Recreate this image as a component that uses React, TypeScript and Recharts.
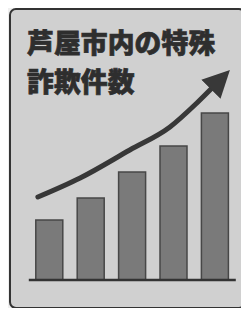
import { ComposedChart, Bar, Line, XAxis, YAxis } from 'recharts'

// bar slots (left to right) and their heights
const slots = ['1', '2', '3', '4', '5']
const cases = [60, 82, 108, 134, 167]

// rising arrow drawn above the bars (x in bar-slot units, 0 = first bar)
const trendX = [-0.28, 0.74, 1.94, 2.91, 3.56, 3.95]
const trendY = [83, 102, 130, 153, 177, 193]

const titleLines = ['芦屋市内の特殊', '詐欺件数']

const barData = slots.map((s, i) => ({ slot: s, cases: cases[i] }))
const trendData = trendX.map((x, i) => ({ pos: x, trend: trendY[i] }))

export default function App() {
  return (
    <div style={{ position: 'relative', width: 249, height: 316, background: '#efefef', margin: -8 }}>
      <div
        style={{
          position: 'absolute',
          left: 9,
          top: 8,
          width: 237,
          height: 301,
          boxSizing: 'border-box',
          border: '2.5px solid #333',
          borderRadius: 7,
          background: '#d0d0d0',
        }}
      />
      {titleLines.map((t, i) => (
        <div
          key={t}
          style={{
            position: 'absolute',
            left: 27,
            top: 22 + i * 39,
            fontFamily: '"Noto Sans CJK JP", sans-serif',
            fontWeight: 900,
            fontSize: 26.8,
            letterSpacing: 0.1,
            lineHeight: '39px',
            color: '#2e2e2e',
            WebkitTextStroke: '0.7px #2e2e2e',
            whiteSpace: 'nowrap',
          }}
        >
          {t}
        </div>
      ))}
      <div style={{ position: 'absolute', left: 0, top: 0 }}>
        <ComposedChart
          width={249}
          height={316}
          data={barData}
          margin={{ top: 60, right: 13.2, bottom: 34, left: 28.8 }}
        >
          <defs>
            <marker
              id="arrowHead"
              markerUnits="userSpaceOnUse"
              markerWidth={30}
              markerHeight={30}
              viewBox="0 0 30 30"
              refX={3}
              refY={15}
              orient="auto"
            >
              <path d="M0,1.5 L27,15 L0,28.5 Z" fill="#383838" />
            </marker>
          </defs>
          <XAxis
            dataKey="slot"
            tick={false}
            tickLine={false}
            height={2}
            axisLine={{ stroke: '#333', strokeWidth: 2.5 }}
          />
          <XAxis xAxisId="trend" type="number" dataKey="pos" domain={[-0.5, 4.5]} hide />
          <YAxis hide domain={[0, 220]} />
          <Bar
            dataKey="cases"
            barSize={27}
            fill="#7a7a7a"
            stroke="#474747"
            strokeWidth={1.5}
            isAnimationActive={false}
          />
          <Line
            xAxisId="trend"
            data={trendData}
            dataKey="trend"
            type="monotone"
            stroke="#383838"
            strokeWidth={5}
            strokeLinecap="round"
            dot={false}
            markerEnd="url(#arrowHead)"
            isAnimationActive={false}
          />
        </ComposedChart>
      </div>
    </div>
  )
}
